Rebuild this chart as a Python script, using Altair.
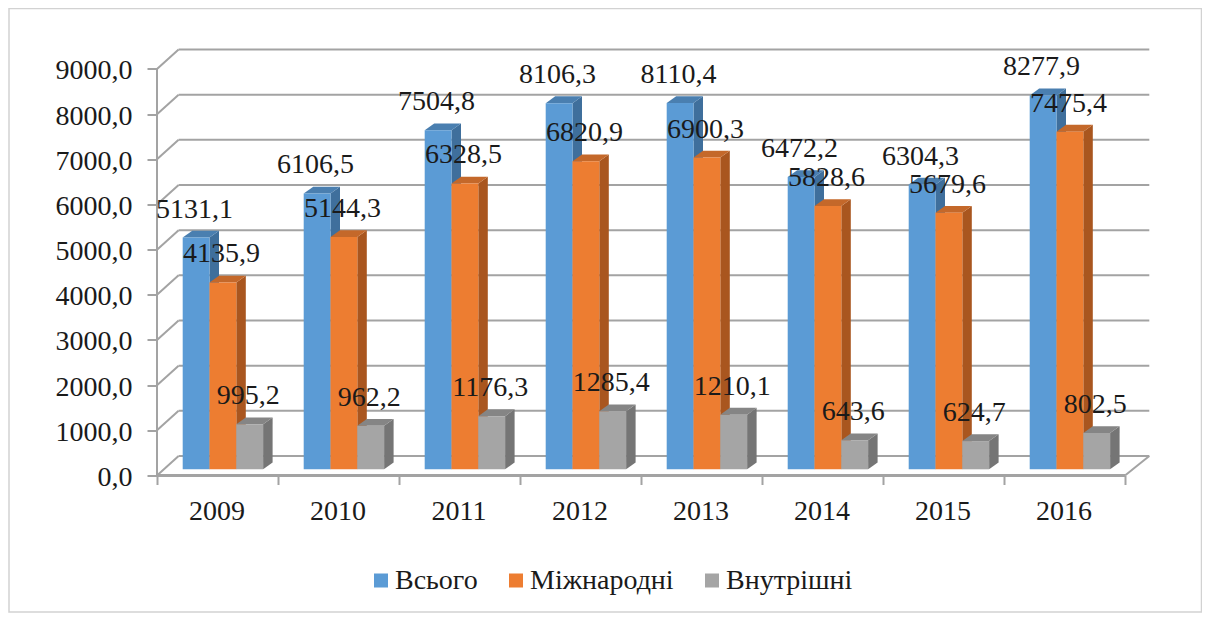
import altair as alt
import pandas as pd

years = [2009, 2010, 2011, 2012, 2013, 2014, 2015, 2016]
series = ["Всього", "Міжнародні", "Внутрішні"]
total = [5131.1, 6106.5, 7504.8, 8106.3, 8110.4, 6472.2, 6304.3, 8277.9]
intl = [4135.9, 5144.3, 6328.5, 6820.9, 6900.3, 5828.6, 5679.6, 7475.4]
dom = [995.2, 962.2, 1176.3, 1285.4, 1210.1, 643.6, 624.7, 802.5]
values = [total, intl, dom]
front_col = ["#5B9BD5", "#ED7D31", "#A5A5A5"]
side_col = ["#3F6F9C", "#A9561F", "#757575"]
top_col = ["#4A7FB0", "#C4682A", "#858585"]
grid_levels = [0, 1000, 2000, 3000, 4000, 5000, 6000, 7000, 8000, 9000]

PX_X = 121.0            # pixels per category
PX_V = 0.04517          # pixels per value unit
W, H = 992.3, 426.0
BACK_L = 21.6 / PX_X    # depth of the floor, left
BACK_R = 24.3 / PX_X    # depth of the floor, right
BACK_V = 19.5 / PX_V
BASE = 6.2 / PX_V       # bars stand a little behind the front edge
BAR0 = 25.7 / PX_X
BAR_W = 26.8 / PX_X
DEP_X = 9.5 / PX_X
DEP_V = 6.8 / PX_V
N = len(years)

xs = alt.Scale(domain=[0, N + BACK_R], range=[0, W], nice=False, zero=False)
ys = alt.Scale(domain=[0, H / PX_V], range=[H, 0], nice=False, zero=False)
FONT = "Liberation Serif"
GRID = "#A3A3A3"
INK = "#1a1a1a"

x_axis = alt.Axis(values=list(range(N + 1)), domain=False, grid=False, tickColor=GRID,
                  tickSize=9, tickWidth=2, labelFont=FONT, labelFontSize=28, labelColor=INK,
                  labelOffset=PX_X / 2 - 1, labelPadding=13, labelFlush=False, labelAlign="center",
                  labelExpr="datum.value < 8 ? '' + (2009 + datum.value) : ''")
y_axis = alt.Axis(values=grid_levels, domain=False, grid=False, tickColor=GRID,
                  tickSize=10, tickWidth=2, labelFont=FONT, labelFontSize=28, labelColor=INK,
                  labelPadding=15, labelOffset=2, labelFlush=False,
                  labelExpr="replace(format(datum.value, '.1f'), '.', ',')")

X = lambda f: alt.X(f, type="quantitative", scale=xs, axis=x_axis, title=None)
Y = lambda f: alt.Y(f, type="quantitative", scale=ys, axis=y_axis, title=None)

# walls
rows = []
for v in grid_levels:
    rows.append(dict(x=BACK_L, x2=N + BACK_R, y=v + BACK_V, y2=v + BACK_V, w=2.0))
    rows.append(dict(x=0, x2=BACK_L, y=v, y2=v + BACK_V, w=2.0))
rows.append(dict(x=N, x2=N + BACK_R, y=0, y2=BACK_V, w=2.0))
rows.append(dict(x=0, x2=0, y=0, y2=9000, w=2.0))
rows.append(dict(x=0, x2=N, y=0, y2=0, w=3.0))
walls = alt.Chart(pd.DataFrame(rows)).mark_rule(color=GRID).encode(
    x=X("x"), x2="x2:Q", y=Y("y"), y2="y2:Q",
    strokeWidth=alt.StrokeWidth("w:Q", scale=None),
)

frame = alt.Chart(pd.DataFrame({"a": [0]})).mark_rect(fill=None, stroke="#D2D2D2", strokeWidth=1.5).encode(
    x=alt.value(-148), x2=alt.value(1044.5), y=alt.value(-41), y2=alt.value(562.5))

layers = [frame, walls]
for s, (name, vals) in enumerate(zip(series, values)):
    side, top, front, text = [], [], [], []
    for i, v in enumerate(vals):
        a0 = i + BAR0 + s * BAR_W
        a1 = a0 + BAR_W
        h = BASE + v
        side += [dict(id=i, x=a1, y=h, y2=BASE), dict(id=i, x=a1 + DEP_X, y=h + DEP_V, y2=BASE + DEP_V)]
        top += [dict(id=i, y=h, x=a0, x2=a1), dict(id=i, y=h + DEP_V, x=a0 + DEP_X, x2=a1 + DEP_X)]
        front.append(dict(x=a0, x2=a1, y=h, y2=BASE, series=name))
        text.append(dict(x=(a0 + a1) / 2 - 1.5 / PX_X, y=h, t=f"{v:.1f}".replace(".", ",")))
    layers.append(alt.Chart(pd.DataFrame(side)).mark_area(color=side_col[s], orient="vertical").encode(
        x=X("x"), y=Y("y"), y2="y2:Q", detail="id:N"))
    layers.append(alt.Chart(pd.DataFrame(top)).mark_area(color=top_col[s], orient="horizontal").encode(
        y=Y("y"), x=X("x"), x2="x2:Q", detail="id:N"))
    layers.append(alt.Chart(pd.DataFrame(front)).mark_rect().encode(
        x=X("x"), x2="x2:Q", y=Y("y"), y2="y2:Q",
        color=alt.Color("series:N", scale=alt.Scale(domain=series, range=front_col), title=None,
                        legend=alt.Legend(orient="none", legendX=210, legendY=517, direction="horizontal",
                                          symbolType="square", symbolSize=196, symbolStrokeWidth=0,
                                          labelFont=FONT, labelFontSize=28, labelColor=INK,
                                          labelOffset=0, columnPadding=24, labelLimit=300))))
    layers.append(alt.Chart(pd.DataFrame(text)).mark_text(
        font=FONT, fontSize=28, color=INK, baseline="alphabetic", dy=-20, align="center").encode(
        x=X("x"), y=Y("y"), text="t:N"))

chart = alt.layer(*layers).properties(
    width=W, height=H,
    padding={"left": 149, "top": 41.5, "right": 52.7, "bottom": 137.5},
    autosize=alt.AutoSizeParams(type="none"),
).configure_view(stroke=None)

chart.save("out.html", embed_options={"renderer": "svg", "actions": False})
